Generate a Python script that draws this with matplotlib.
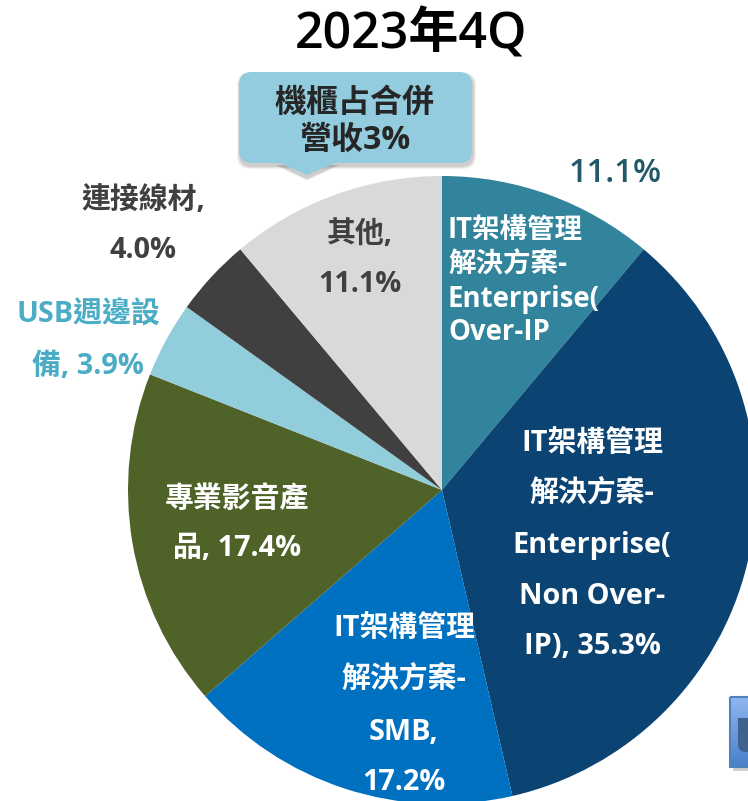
import matplotlib
matplotlib.use("Agg")
from matplotlib import pyplot as plt
from matplotlib.patches import FancyBboxPatch, Polygon, Rectangle
import numpy as np

plt.rcParams['font.family'] = ['Open Sans', 'Noto Sans CJK TC', 'DejaVu Sans']

W, H = 748, 801

# slices clockwise from 12 o'clock
categories = ["IT架構管理解決方案-Enterprise(Over-IP", "IT架構管理解決方案-Enterprise(Non Over-IP)",
              "IT架構管理解決方案-SMB", "專業影音產品", "USB週邊設備", "連接線材", "其他"]
values = [11.1, 35.3, 17.2, 17.4, 3.9, 4.0, 11.1]
colors = ["#31849B", "#0B4473", "#0070C0", "#4F6228", "#92CDDC", "#404040", "#D9D9D9"]

fig = plt.figure(figsize=(W / 100, H / 100), dpi=100)
ax = fig.add_axes([0, 0, 1, 1])

cx, cy, r = 442, 490, 314
wedges, _ = ax.pie(values, colors=colors, startangle=90, counterclock=False, center=(cx, cy), radius=r,
                   frame=True)
# y axis is flipped so mirror the wedges back
for w in wedges:
    t1, t2 = w.theta1, w.theta2
    w.set_theta1(-t2)
    w.set_theta2(-t1)

# title
ax.text(411, 35, "2023年4Q", fontsize=36, fontweight="semibold", ha="center", va="center", color="black")

# callout, soft shadow first
for grow, alpha in [(3, 0.10), (2, 0.15), (1, 0.2)]:
    ax.add_patch(FancyBboxPatch((240 - grow, 75 - grow), 233 + 2 * grow, 91 + 2 * grow,
                                boxstyle="round,pad=0,rounding_size=13",
                                fc="#808080", ec="none", alpha=alpha, zorder=4))
    ax.add_patch(Polygon([(278 - grow, 165), (307, 178 + grow), (337 + grow, 165)], closed=True,
                         fc="#808080", ec="none", alpha=alpha, zorder=4))
ax.add_patch(FancyBboxPatch((239, 72), 233, 91, boxstyle="round,pad=0,rounding_size=13",
                            fc="#92CCDE", ec="none", zorder=5))
ax.add_patch(Polygon([(278, 162), (307, 175), (337, 162)], closed=True, fc="#92CCDE", ec="none", zorder=5))
ax.text(355, 103, "機櫃占合併", fontsize=23, fontweight="bold", ha="center", va="center", color="#262626", zorder=6)
ax.text(355, 140, "營收3%", fontsize=23, fontweight="bold", ha="center", va="center", color="#262626", zorder=6)


def label(lines, x, ys, color, size=20.8, weight="bold", ha="center"):
    for s, y in zip(lines, ys):
        ax.text(x, y, s, fontsize=size, fontweight=weight, ha=ha, va="center", color=color, zorder=6)


label(["11.1%"], 615, [173], "#215968", size=23.5, weight="semibold")
label(["IT架構管理", "解決方案-", "Enterprise(", "Over-IP"], 448, [230, 265, 299, 332], "white", size=19.8, ha="left")
label(["IT架構管理", "解決方案-", "Enterprise(", "Non Over-", "IP), 35.3%"], 592, [443, 493, 545, 596, 647], "white")
label(["IT架構管理", "解決方案-", "SMB,", "17.2%"], 404, [628, 679, 732, 782], "white")
label(["專業影音產", "品, 17.4%"], 237, [499, 549], "white")
label(["USB週邊設", "備, 3.9%"], 88, [315, 367], "#4BACC6")
label(["連接線材,", "4.0%"], 143, [200, 251], "#404040")
label(["其他,", "11.1%"], 360, [234, 285], "#404040")

# corner of slide logo
ax.add_patch(Rectangle((733, 701), 20, 70, fc="#8A8A8A", ec="none", alpha=0.4, zorder=7))
ax.imshow(np.linspace(0, 1, 64).reshape(-1, 1), extent=(730, 750, 767, 697), aspect="auto", zorder=8,
          cmap=matplotlib.colors.LinearSegmentedColormap.from_list("logo", ["#8FB6F0", "#4A80C8"]))
ax.add_patch(Rectangle((730, 697), 20, 70, fc="none", ec="#4F81BD", lw=1.5, zorder=9))
ax.add_patch(FancyBboxPatch((738, 728), 20, 24, boxstyle="round,pad=0,rounding_size=8",
                            fc="#41618F", ec="none", zorder=9))
ax.add_patch(Rectangle((738, 718), 12, 18, fc="#41618F", ec="none", zorder=9))

ax.set_xlim(0, W)
ax.set_ylim(H, 0)
ax.set_aspect("auto")
ax.axis("off")

fig.savefig("out.png", dpi=100)
